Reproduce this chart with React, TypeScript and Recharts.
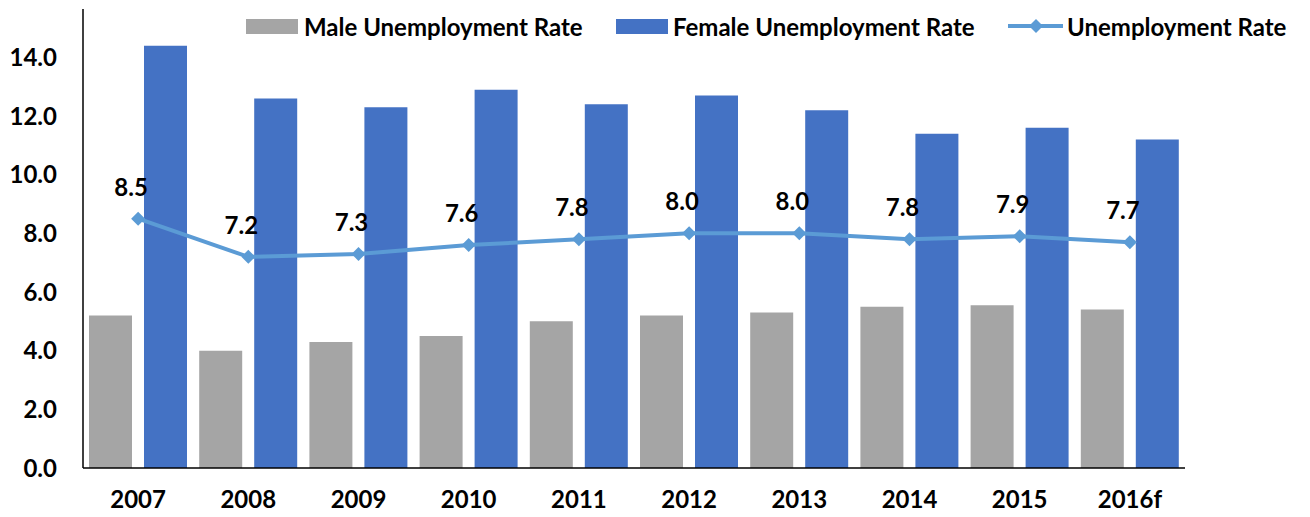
import React from "react";
import { ComposedChart, Bar, Line, XAxis, YAxis, LabelList } from "recharts";

const years = ["2007", "2008", "2009", "2010", "2011", "2012", "2013", "2014", "2015", "2016f"];
const maleRate = [5.2, 4.0, 4.3, 4.5, 5.0, 5.2, 5.3, 5.5, 5.55, 5.4];
const femaleRate = [14.4, 12.6, 12.3, 12.9, 12.4, 12.7, 12.2, 11.4, 11.6, 11.2];
const totalRate = [8.5, 7.2, 7.3, 7.6, 7.8, 8.0, 8.0, 7.8, 7.9, 7.7];
const yTicks = [0, 2, 4, 6, 8, 10, 12, 14];

const data = years.map((year, i) => ({
  year,
  male: maleRate[i],
  female: femaleRate[i],
  total: totalRate[i],
}));

const FONT = "Lato, 'Open Sans', sans-serif";
const tickStyle = { fontSize: 24, fontWeight: 700, fill: "#000", fontFamily: FONT };

const Diamond = (props: any) => {
  const { cx, cy } = props;
  if (cx == null || cy == null) return null;
  const r = 7;
  return <path d={`M${cx},${cy - r}L${cx + r},${cy}L${cx},${cy + r}L${cx - r},${cy}Z`} fill="#5B9BD5" />;
};

const RateLabel = (props: any) => {
  const { x, y, value } = props;
  return (
    <text x={x - 7} y={y - 23} textAnchor="middle" style={tickStyle}>
      {Number(value).toFixed(1)}
    </text>
  );
};

function LegendRow() {
  const item = (left: number, gap: number, label: string, swatch: React.ReactNode) => (
    <div style={{ position: "absolute", left, top: 11, display: "flex", alignItems: "center", height: 30 }}>
      {swatch}
      <span style={{ fontFamily: FONT, fontWeight: 700, fontSize: 24, color: "#000", marginLeft: gap, whiteSpace: "nowrap" }}>
        {label}
      </span>
    </div>
  );
  return (
    <>
      {item(246, 6, "Male Unemployment Rate", <span style={{ width: 52, height: 15, background: "#A5A5A5", display: "inline-block" }} />)}
      {item(616, 5, "Female Unemployment Rate", <span style={{ width: 52, height: 15, background: "#4472C4", display: "inline-block" }} />)}
      {item(
        1008,
        4,
        "Unemployment Rate",
        <svg width={55} height={16} style={{ display: "block" }}>
          <line x1={0} y1={8} x2={55} y2={8} stroke="#5B9BD5" strokeWidth={4} />
          <path d="M28,1L35,8L28,15L21,8Z" fill="#5B9BD5" />
        </svg>
      )}
    </>
  );
}

export default function App() {
  return (
    <div style={{ position: "absolute", left: 0, top: 0, width: 1310, height: 517, background: "#fff" }}>
      <ComposedChart
        width={1310}
        height={517}
        data={data}
        margin={{ top: 9, right: 125, bottom: 0, left: 0 }}
        barCategoryGap={6}
        barGap={12}
      >
        <XAxis
          dataKey="year"
          tickLine={false}
          axisLine={{ stroke: "#000", strokeWidth: 1.5 }}
          tick={tickStyle}
          tickMargin={17}
          height={49}
          interval={0}
        />
        <YAxis
          domain={[0, 15.65]}
          ticks={yTicks}
          tickLine={false}
          axisLine={{ stroke: "#000", strokeWidth: 1.5 }}
          tick={tickStyle}
          tickFormatter={(v: number) => v.toFixed(1)}
          tickMargin={20}
          width={83}
          allowDataOverflow
        />
        <Bar dataKey="male" name="Male Unemployment Rate" fill="#A5A5A5" isAnimationActive={false} />
        <Bar dataKey="female" name="Female Unemployment Rate" fill="#4472C4" isAnimationActive={false} />
        <Line
          dataKey="total"
          name="Unemployment Rate"
          stroke="#5B9BD5"
          strokeWidth={4}
          dot={<Diamond />}
          activeDot={false}
          isAnimationActive={false}
        >
          <LabelList dataKey="total" content={<RateLabel />} />
        </Line>
      </ComposedChart>
      <LegendRow />
    </div>
  );
}
